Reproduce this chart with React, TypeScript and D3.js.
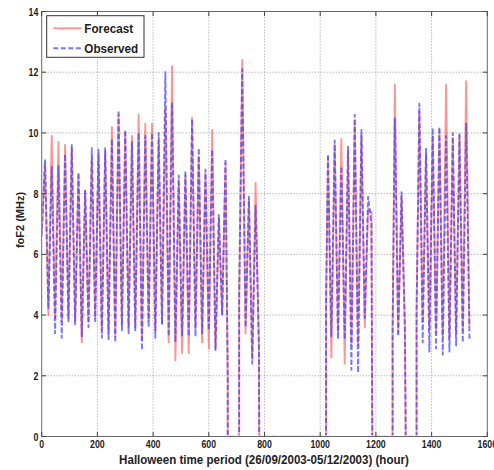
import React from "react";
import * as d3 from "d3";

// ---- axis ticks ----
const xTicks = [0, 200, 400, 600, 800, 1000, 1200, 1400, 1600];
const yTicks = [0, 2, 4, 6, 8, 10, 12, 14];

// ---- observation runs (hours) ----
const runStart = [0, 709, 1021, 1260, 1346];
const runFirstExtreme = [12, 720, 1028, 1268, 1356];
const runEnd = [668, 781, 1187, 1307, 1538];

// values: first at runStart, then alternating daily peaks / troughs every 12 h
const forecastRun1 = [6.7, 9.0, 4.0, 9.9, 3.9, 9.7, 3.8, 9.6, 3.9, 9.5, 3.8, 8.6, 3.1, 8.1, 3.8, 9.2, 3.9, 9.3, 3.5, 9.4, 3.4, 10.2, 3.3, 10.6, 3.7, 10.0, 3.6, 9.9, 3.6, 10.6, 3.2, 10.3, 3.8, 10.3, 3.5, 9.75, 3.7, 10.85, 3.1, 12.2, 2.5, 8.4, 2.75, 8.6, 2.75, 10.5, 3.6, 9.2, 3.1, 8.7, 2.9, 10.1, 2.9, 7.2, 4.0, 9.0, 1.8];
const observedRun1 = [6.6, 9.1, 4.2, 8.9, 3.4, 8.9, 3.25, 9.3, 3.8, 9.6, 3.7, 8.7, 3.3, 8.1, 3.6, 9.5, 3.8, 9.45, 3.25, 9.5, 3.2, 9.8, 3.1, 10.75, 3.5, 10.1, 3.4, 9.7, 3.5, 10.0, 2.85, 9.9, 3.6, 10.0, 3.25, 10.0, 3.7, 12.0, 3.3, 11.0, 3.1, 8.6, 3.3, 8.75, 3.3, 10.45, 3.3, 9.5, 3.4, 8.8, 3.5, 9.45, 2.85, 7.3, 4.0, 9.15, 2.0];

const forecastRun2 = [4.6, 12.4, 3.4, 7.8, 2.6, 8.35, 2.9];
const observedRun2 = [4.5, 12.1, 3.6, 7.9, 2.4, 7.6, 3.0];

const forecastRun3 = [4.3, 9.2, 2.6, 9.6, 3.4, 9.8, 2.4, 9.4, 3.0, 10.4, 3.0, 9.9, 3.6, 7.5, 7.4];
const observedRun3 = [4.5, 9.3, 3.3, 9.75, 3.2, 8.9, 3.2, 9.55, 2.2, 10.6, 2.1, 10.1, 3.9, 7.9, 7.0];

const forecastRun4 = [3.5, 11.6, 3.4, 7.9, 3.7];
const observedRun4 = [3.5, 10.5, 3.3, 8.05, 3.6];

const forecastRun5 = [4.2, 10.7, 3.8, 9.3, 3.5, 9.9, 3.4, 10.1, 3.3, 11.6, 3.2, 9.8, 3.4, 9.9, 3.5, 11.7, 3.6];
const observedRun5 = [4.0, 10.96, 3.1, 9.48, 2.8, 10.16, 2.9, 10.2, 2.7, 9.9, 2.8, 10.0, 3.0, 10.0, 3.1, 10.3, 3.2];

const forecastRuns = [forecastRun1, forecastRun2, forecastRun3, forecastRun4, forecastRun5];
const observedRuns = [observedRun1, observedRun2, observedRun3, observedRun4, observedRun5];

const xLabel = "Halloween time period (26/09/2003-05/12/2003) (hour)";
const yLabel = "foF2 (MHz)";
const legendLabels = ["Forecast", "Observed"];

function buildSeries(runs: number[][]): [number, number][] {
  const pts: [number, number][] = [];
  runs.forEach((vals, i) => {
    if (i > 0) pts.push([runStart[i], 0]);
    pts.push([runStart[i], vals[0]]);
    for (let k = 1; k < vals.length; k++) {
      const h = Math.min(runFirstExtreme[i] + 12 * (k - 1), runEnd[i]);
      pts.push([h, vals[k]]);
    }
    if (i < runs.length - 1) pts.push([runEnd[i], 0]);
  });
  return pts;
}

export default function App() {
  const W = 494, H = 470;
  const L = 41.7, R = 487.3, T = 11.5, B = 436.5;
  const x = d3.scaleLinear().domain([0, 1600]).range([L, R]);
  const y = d3.scaleLinear().domain([0, 14]).range([B, T]);
  const line = d3.line<[number, number]>().x(d => x(d[0])).y(d => y(d[1]));
  const fc = buildSeries(forecastRuns);
  const ob = buildSeries(observedRuns);
  const font = "'Liberation Sans', Arial, sans-serif";
  const tick = 4.5;
  const red = "#ff5a5a";
  const blue = "#3c3cff";
  return (
    <svg width={W} height={H} style={{ position: "absolute", left: 0, top: 0, background: "#fff" }} fontFamily={font}>
      <defs>
        <clipPath id="plotClip">
          <rect x={L + 0.5} y={T} width={R - L - 1} height={B - T - 1.2} />
        </clipPath>
      </defs>
      <rect x={0} y={0} width={W} height={H} fill="#fff" />
      {/* grid */}
      {xTicks.slice(1, -1).map(t => (
        <line key={"gx" + t} x1={x(t)} x2={x(t)} y1={T} y2={B} stroke="#8a8a8a" strokeWidth={0.9} strokeDasharray="1,2" />
      ))}
      {yTicks.slice(1, -1).map(t => (
        <line key={"gy" + t} x1={L} x2={R} y1={y(t)} y2={y(t)} stroke="#8a8a8a" strokeWidth={0.9} strokeDasharray="1,2" />
      ))}
      {/* data */}
      <g clipPath="url(#plotClip)">
        <path d={line(fc) || ""} fill="none" stroke={red} strokeOpacity={0.65} strokeWidth={1.9} strokeLinejoin="round" />
        <path d={line(ob) || ""} fill="none" stroke={blue} strokeOpacity={0.7} strokeWidth={1.9} strokeDasharray="5,2.5" strokeLinejoin="round" />
      </g>
      {/* frame */}
      <rect x={L} y={T} width={R - L} height={B - T} fill="none" stroke="#6a6a6a" strokeWidth={1} />
      {xTicks.map(t => (
        <g key={"tx" + t}>
          <line x1={x(t)} x2={x(t)} y1={B} y2={B - tick} stroke="#444" />
          <line x1={x(t)} x2={x(t)} y1={T} y2={T + tick} stroke="#444" />
          <text transform={`translate(${x(t)},${448}) scale(0.8,1)`} textAnchor="middle" fontSize={11} fontWeight="bold" fill="#222">{t}</text>
        </g>
      ))}
      {yTicks.map(t => (
        <g key={"ty" + t}>
          <line x1={L} x2={L + tick} y1={y(t)} y2={y(t)} stroke="#444" />
          <line x1={R} x2={R - tick} y1={y(t)} y2={y(t)} stroke="#444" />
          <text transform={`translate(${38.3},${y(t) + 4}) scale(0.8,1)`} textAnchor="end" fontSize={11} fontWeight="bold" fill="#222">{t}</text>
        </g>
      ))}
      {/* axis labels */}
      <text transform={`translate(${264},${464}) scale(0.89,1)`} textAnchor="middle" fontSize={13} fontWeight="bold" fill="#222">{xLabel}</text>
      <text transform={`translate(${24},${220}) rotate(-90)`} textAnchor="middle" fontSize={11} fontWeight="bold" fill="#222">{yLabel}</text>
      {/* legend */}
      <rect x={46.7} y={15.7} width={97.3} height={41.6} fill="#fff" stroke="#333" strokeWidth={1} />
      <line x1={53.3} x2={81.7} y1={28.3} y2={28.3} stroke={red} strokeOpacity={0.65} strokeWidth={1.9} />
      <line x1={53.3} x2={81.7} y1={48.3} y2={48.3} stroke={blue} strokeOpacity={0.7} strokeWidth={1.9} strokeDasharray="5,2.5" />
      <text transform={`translate(${84.3},${32.8}) scale(0.9,1)`} fontSize={13} fontWeight="bold" fill="#222">{legendLabels[0]}</text>
      <text transform={`translate(${84.3},${52.8}) scale(0.9,1)`} fontSize={13} fontWeight="bold" fill="#222">{legendLabels[1]}</text>
    </svg>
  );
}
